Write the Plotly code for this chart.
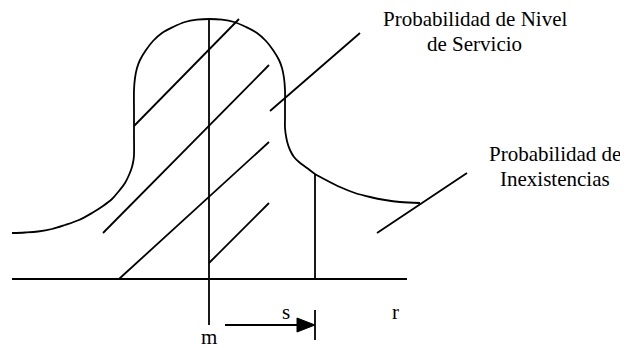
import plotly.graph_objects as go

# ---- diagram geometry (in pixel-like units, y downward) ----
curve_x = [12, 25, 38, 52, 65, 79, 92, 103, 112, 119, 125, 129, 132, 133.5, 134, 134, 134, 134,
           135, 137, 140, 146, 153, 162, 173, 185, 197, 209.5,
           222, 234, 246, 257, 266, 273, 279, 282, 284, 285, 285, 285, 285,
           286, 287.5, 290, 294, 299, 307, 315, 326, 340, 355, 370, 385, 400, 420]
curve_y = [233, 232.5, 231.5, 229, 225, 220, 213, 206, 199, 191, 183, 175, 167, 160, 155, 135, 110, 90,
           78, 68, 60, 50, 41, 33, 27, 22, 19.7, 19,
           19.7, 22, 27, 33, 41, 50, 60, 68, 78, 90, 105, 118, 128,
           136, 143, 150, 157, 162, 168, 174, 180, 187, 193, 197, 200, 202, 203]

# straight segments: (x0, y0, x1, y1)
baseline = (12, 279, 407, 279)
mean_line = (209, 19, 209, 325)
s_line = (315, 174, 315, 279)
s_tick = (315, 310, 315, 340)
arrow_shaft = (225, 325, 300, 325)
arrow_head_x = [297, 297, 315, 297]
arrow_head_y = [318, 332, 325, 318]

hatch_lines = [
    (134, 126, 239, 19),
    (103, 233, 269, 65),
    (119, 279, 269, 142),
    (209, 263, 269, 203),
]
leader_lines = [
    (270, 111, 360, 33),
    (377, 233, 467, 173),
]

# labels: (text, x, y)
labels = [
    ("Probabilidad de Nivel", 474.5, 19),
    ("de Servicio", 474.5, 44),
    ("Probabilidad de", 554.5, 154),
    ("Inexistencias", 555, 179),
    ("s", 286, 312),
    ("r", 395, 312),
    ("m", 209, 337),
]

LW = 1.8
FONT = "Liberation Serif"

fig = go.Figure()

fig.add_trace(go.Scatter(x=curve_x, y=curve_y, mode="lines", line_shape="spline",
                         line=dict(color="black", width=LW, smoothing=1.0), hoverinfo="skip"))

segs = [baseline, mean_line, s_line, s_tick, arrow_shaft] + hatch_lines + leader_lines
for (x0, y0, x1, y1) in segs:
    fig.add_trace(go.Scatter(x=[x0, x1], y=[y0, y1], mode="lines",
                             line=dict(color="black", width=LW), hoverinfo="skip"))

fig.add_trace(go.Scatter(x=arrow_head_x, y=arrow_head_y, mode="lines", fill="toself",
                         fillcolor="black", line=dict(color="black", width=1), hoverinfo="skip"))

for (t, x, y) in labels:
    fig.add_annotation(x=x, y=y, text=t, showarrow=False, xanchor="center", yanchor="middle",
                       font=dict(family=FONT, size=21, color="black"))

# the page body has an 8px margin, so the figure is placed at (8, 8) in the window
fig.update_layout(
    width=620, height=340,
    margin=dict(l=0, r=0, t=0, b=0),
    paper_bgcolor="white", plot_bgcolor="white",
    showlegend=False,
    xaxis=dict(range=[8, 628], visible=False, fixedrange=True),
    yaxis=dict(range=[348, 8], visible=False, fixedrange=True),
)

fig.write_html("out.html")
